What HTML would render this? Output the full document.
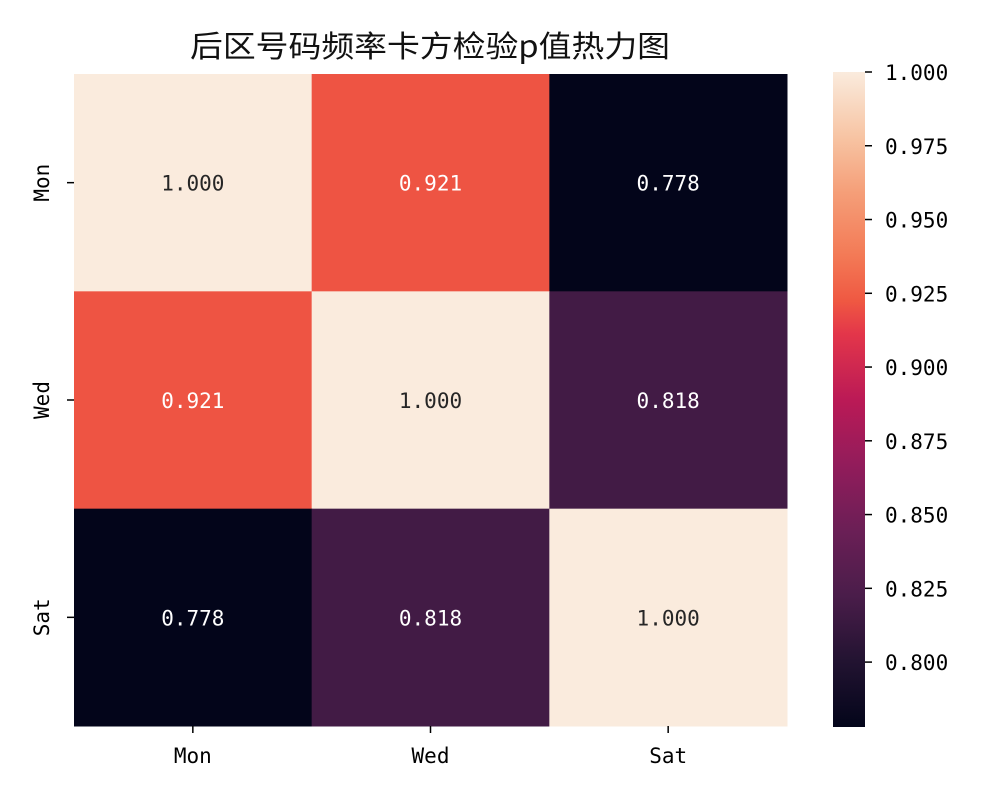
<!DOCTYPE html>
<html><head><meta charset="utf-8"><style>
body{margin:0;background:#fff;}
svg text{font-family:"DejaVu Sans Mono","Liberation Mono","Noto Sans CJK SC",monospace;}
svg text.title{font-family:"WenQuanYi Zen Hei","Noto Sans CJK SC",sans-serif;}
</style></head><body>
<svg id="chart" width="1000" height="800" xmlns="http://www.w3.org/2000/svg">
<defs><linearGradient id="cbgrad" x1="0" y1="1" x2="0" y2="0"></linearGradient></defs>
<text class="title" x="430" y="57" font-size="30" text-anchor="middle" fill="#111" textLength="480" lengthAdjust="spacingAndGlyphs">后区号码频率卡方检验p值热力图</text>
<g id="cells"></g><g id="xaxis"></g><g id="yaxis"></g><g id="cbar"></g>
</svg>
<script>
const rows = ["Mon","Wed","Sat"];
const cols = ["Mon","Wed","Sat"];
const values = [[1.000,0.921,0.778],[0.921,1.000,0.818],[0.778,0.818,1.000]];
const cbTicks = [0.800,0.825,0.850,0.875,0.900,0.925,0.950,0.975,1.000];
const vmin = 0.778, vmax = 1.0;
const stops = [[0,"#03051a"],[0.1,"#221331"],[0.2,"#4a1d4a"],[0.3,"#6b1f56"],[0.4,"#921c5b"],[0.5,"#bb1a56"],[0.6,"#e3364a"],[0.65,"#ef5842"],[0.72,"#f37a56"],[0.82,"#f5a07a"],[0.9,"#f7c4a3"],[1,"#faebdd"]];
const NS="http://www.w3.org/2000/svg";
const L=74,R=787,T=74,B=726;
const cw=(R-L)/cols.length, ch=(B-T)/rows.length;
function hex(c){return [1,3,5].map(i=>parseInt(c.substr(i,2),16));}
function cmap(v){let t=(v-vmin)/(vmax-vmin);t=Math.max(0,Math.min(1,t));
for(let i=1;i<stops.length;i++){if(t<=stops[i][0]){const a=hex(stops[i-1][1]),b=hex(stops[i][1]);const f=(t-stops[i-1][0])/(stops[i][0]-stops[i-1][0]);return "rgb("+a.map((x,k)=>Math.round(x+(b[k]-x)*f)).join(",")+")";}}return stops[stops.length-1][1];}
function mk(tag,attrs,parent){const e=document.createElementNS(NS,tag);for(const k in attrs)e.setAttribute(k,attrs[k]);parent.appendChild(e);return e;}
const cells=document.getElementById('cells');
values.forEach((row,i)=>row.forEach((v,j)=>{
 const r=mk('rect',{x:L+j*cw,y:T+i*ch,width:cw+0.5,height:ch+0.5,fill:cmap(v)},cells);
 
 
 const t=mk('text',{x:L+(j+0.5)*cw,y:T+(i+0.5)*ch+8,'font-size':21,'text-anchor':'middle',fill:(v-vmin)/(vmax-vmin)>0.85?'#262626':'#fff'},cells);
 t.textContent=v.toFixed(3);
 
 
}));
const xa=document.getElementById('xaxis');
cols.forEach((c,j)=>{const x=L+(j+0.5)*cw;
 const tk=mk('line',{x1:x,x2:x,y1:B,y2:B+7,stroke:'#000','stroke-width':1.5},xa);
 
 
 const t=mk('text',{x:x,y:B+37,'font-size':21,'text-anchor':'middle',fill:'#000'},xa);t.textContent=c;
 
 });
const ya=document.getElementById('yaxis');
rows.forEach((r,i)=>{const y=T+(i+0.5)*ch;
 const tk=mk('line',{x1:L-7,x2:L,y1:y,y2:y,stroke:'#000','stroke-width':1.5},ya);
 
 
 const t=mk('text',{x:0,y:0,'font-size':21,'text-anchor':'middle',fill:'#000',transform:`translate(49,${y}) rotate(-90)`},ya);t.textContent=r;
 
 });
const g=document.getElementById('cbgrad');
stops.forEach(s=>mk('stop',{offset:s[0],'stop-color':s[1]},g));
const cb=document.getElementById('cbar');
const CT=72,CB=727,CX=833,CW=32;
const bar=mk('rect',{x:CX,y:CT,width:CW,height:CB-CT,fill:'url(#cbgrad)'},cb);


cbTicks.forEach(v=>{const y=CB-(v-vmin)/(vmax-vmin)*(CB-CT);
 const tk=mk('line',{x1:CX+CW,x2:CX+CW+7,y1:y,y2:y,stroke:'#000','stroke-width':1.5},cb);
 
 
 const t=mk('text',{x:CX+CW+20,y:y+8,'font-size':21,fill:'#000'},cb);t.textContent=v.toFixed(3);
 
 });
</script>
</body></html>
